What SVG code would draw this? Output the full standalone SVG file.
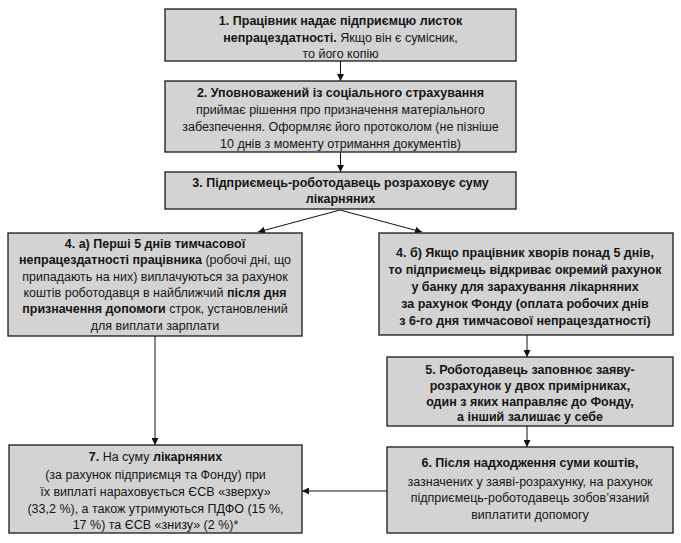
<svg xmlns="http://www.w3.org/2000/svg" width="681" height="543" viewBox="0 0 681 543">
<defs>
<marker id="ah" viewBox="0 0 10 10" refX="10" refY="5" markerWidth="7" markerHeight="7" markerUnits="userSpaceOnUse" orient="auto">
<path d="M0,0 L10,5 L0,10 z" fill="#111"/>
</marker>
<style>
.box{fill:#d3d3d3;stroke:#1a1a1a;stroke-width:1.3}
text{font-family:"Liberation Sans",Arial,sans-serif;font-size:12.5px;fill:#151515;text-anchor:middle}
.b{font-weight:bold}
.c{stroke:#111;stroke-width:1;fill:none;marker-end:url(#ah)}
</style>
</defs>
<rect width="681" height="543" fill="#fff"/>
<g id="connectors">
<line class="c" x1="340.5" y1="61" x2="340.5" y2="81"/>
<line class="c" x1="340.5" y1="152" x2="340.5" y2="172"/>
<line class="c" x1="340" y1="210" x2="258" y2="232"/>
<line class="c" x1="340" y1="210" x2="422" y2="232"/>
<line class="c" x1="155" y1="336" x2="155" y2="445"/>
<line class="c" x1="527" y1="335" x2="527" y2="357"/>
<line class="c" x1="527" y1="426" x2="527" y2="447"/>
<line class="c" x1="387" y1="491" x2="302" y2="491"/>
</g>
<g id="node1">
<rect class="box" x="165" y="9" width="351" height="52"/>
<text x="340.5" y="25" class="b">1. Працівник надає підприємцю листок</text>
<text x="340.5" y="42"><tspan class="b">непрацездатності.</tspan> Якщо він є сумісник,</text>
<text x="340.5" y="58">то його копію</text>
</g>
<g id="node2">
<rect class="box" x="165" y="81" width="351" height="71"/>
<text x="340.5" y="97" class="b">2. Уповноважений із соціального страхування</text>
<text x="340.5" y="114">приймає рішення про призначення матеріального</text>
<text x="340.5" y="131">забезпечення. Оформляє його протоколом (не пізніше</text>
<text x="340.5" y="148">10 днів з моменту отримання документів)</text>
</g>
<g id="node3">
<rect class="box" x="165" y="172" width="351" height="37"/>
<text x="340.5" y="187" class="b">3. Підприємець-роботодавець розраховує суму</text>
<text x="340.5" y="203" class="b">лікарняних</text>
</g>
<g id="node4a">
<rect class="box" x="8" y="233" width="294" height="103"/>
<text x="155" y="248" class="b">4. а) Перші 5 днів тимчасової</text>
<text x="155" y="264"><tspan class="b">непрацездатності працівника</tspan> (робочі дні, що</text>
<text x="155" y="281">припадають на них) виплачуються за рахунок</text>
<text x="155" y="297">коштів роботодавця в найближчий <tspan class="b">після дня</tspan></text>
<text x="155" y="313"><tspan class="b">призначення допомоги</tspan> строк, установлений</text>
<text x="155" y="330">для виплати зарплати</text>
</g>
<g id="node4b">
<rect class="box" x="379" y="233" width="294" height="102"/>
<text x="525" y="257" class="b">4. б) Якщо працівник хворів понад 5 днів,</text>
<text x="525" y="274" class="b">то підприємець відкриває окремий рахунок</text>
<text x="525" y="291" class="b">у банку для зарахування лікарняних</text>
<text x="525" y="308" class="b">за рахунок Фонду (оплата робочих днів</text>
<text x="525" y="325" class="b">з 6-го дня тимчасової непрацездатності)</text>
</g>
<g id="node5">
<rect class="box" x="387" y="357" width="286" height="69"/>
<text x="530" y="374" class="b">5. Роботодавець заповнює заяву-</text>
<text x="530" y="390" class="b">розрахунок у двох примірниках,</text>
<text x="530" y="406" class="b">один з яких направляє до Фонду,</text>
<text x="530" y="421" class="b">а інший залишає у себе</text>
</g>
<g id="node6">
<rect class="box" x="387" y="447" width="286" height="86"/>
<text x="530" y="467" class="b">6. Після надходження суми коштів,</text>
<text x="530" y="486">зазначених у заяві-розрахунку, на рахунок</text>
<text x="530" y="502">підприємець-роботодавець зобов’язаний</text>
<text x="530" y="519">виплатити допомогу</text>
</g>
<g id="node7">
<rect class="box" x="9" y="445" width="293" height="88"/>
<text x="155.5" y="461"><tspan class="b">7.</tspan> На суму <tspan class="b">лікарняних</tspan></text>
<text x="155.5" y="479">(за рахунок підприємця та Фонду) при</text>
<text x="155.5" y="496">їх виплаті нараховується ЄСВ «зверху»</text>
<text x="155.5" y="513">(33,2 %), а також утримуються ПДФО (15 %,</text>
<text x="155.5" y="529">17 %) та ЄСВ «знизу» (2 %)*</text>
</g>
</svg>
